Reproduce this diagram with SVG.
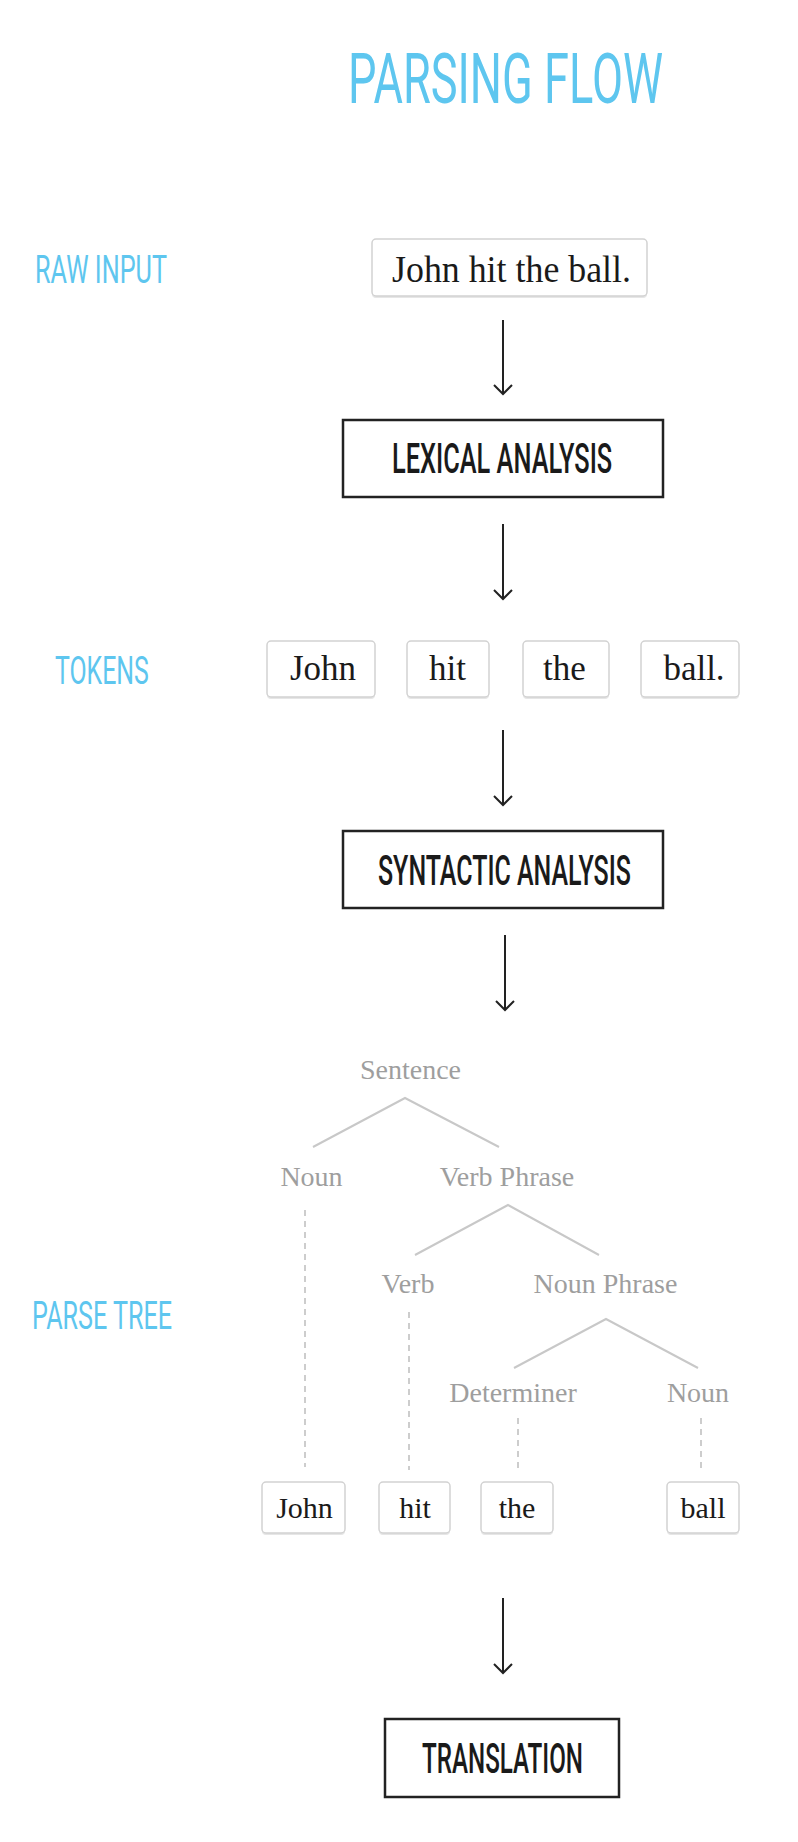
<svg xmlns="http://www.w3.org/2000/svg" width="798" height="1842" viewBox="0 0 798 1842">
<defs>
<style>
.blue{font-family:Roboto,"Liberation Sans",sans-serif;font-weight:400;fill:#5ec6ef}
.proc{font-family:Roboto,"Liberation Sans",sans-serif;font-weight:500;fill:#1a1a1a;font-size:42px}
.pbox{fill:#fff;stroke:#222;stroke-width:2.5}
.wbox{fill:#fff;stroke:#d2d2d2;stroke-width:1.5}
.shadow{fill:#e6e6e6}
.word{font-family:"Liberation Serif",serif;fill:#1a1a1a;text-anchor:middle}
.tl{font-family:"Liberation Serif",serif;fill:#9e9e9e;font-size:28px;text-anchor:middle}
.arrow{stroke:#222;stroke-width:2;fill:none}
.branch{stroke:#c8c8c8;stroke-width:2;fill:none}
.dash{stroke:#bdbdbd;stroke-width:1.5;stroke-dasharray:6 5;fill:none}
</style>
<marker id="ah" viewBox="-11 -11 13 22" markerWidth="13" markerHeight="22" refX="0" refY="0" orient="auto" markerUnits="userSpaceOnUse">
<path d="M-9 -9 L0 0 L-9 9" fill="none" stroke="#222" stroke-width="2"/>
</marker>
</defs>
<rect width="798" height="1842" fill="#fff"/>

<g id="title"><text class="blue" transform="translate(348,103) scale(0.634,1)" x="0" y="0" font-size="70" textLength="497" lengthAdjust="spacingAndGlyphs">PARSING FLOW</text></g>

<g id="labels">
<text class="blue" transform="translate(35,283) scale(0.639,1)" x="0" y="0" font-size="39" textLength="206.5" lengthAdjust="spacingAndGlyphs">RAW INPUT</text>
<text class="blue" transform="translate(55,684) scale(0.63,1)" x="0" y="0" font-size="39" textLength="149" lengthAdjust="spacingAndGlyphs">TOKENS</text>
<text class="blue" transform="translate(32,1329) scale(0.628,1)" x="0" y="0" font-size="39" textLength="223" lengthAdjust="spacingAndGlyphs">PARSE TREE</text>
</g>

<g id="raw-input">
<rect class="shadow" x="372" y="241" width="275" height="57" rx="4"/>
<rect class="wbox" x="372" y="239" width="275" height="57" rx="4"/>
<text class="word" x="511.5" y="282" font-size="38" textLength="239" lengthAdjust="spacingAndGlyphs">John hit the ball.</text>
</g>

<g id="lexical-analysis">
<rect class="pbox" x="343" y="420" width="320" height="77"/>
<text class="proc" transform="translate(392,473) scale(0.6,1)" x="0" y="0" textLength="367" lengthAdjust="spacingAndGlyphs">LEXICAL ANALYSIS</text>
</g>

<g id="tokens">
<g id="tok-john"><rect class="shadow" x="267" y="643" width="108" height="56" rx="4"/><rect class="wbox" x="267" y="641" width="108" height="56" rx="4"/><text class="word" x="323" y="680" font-size="35">John</text></g>
<g id="tok-hit"><rect class="shadow" x="407" y="643" width="82" height="56" rx="4"/><rect class="wbox" x="407" y="641" width="82" height="56" rx="4"/><text class="word" x="447.5" y="680" font-size="35">hit</text></g>
<g id="tok-the"><rect class="shadow" x="523" y="643" width="86" height="56" rx="4"/><rect class="wbox" x="523" y="641" width="86" height="56" rx="4"/><text class="word" x="564.5" y="680" font-size="35">the</text></g>
<g id="tok-ball"><rect class="shadow" x="641" y="643" width="98" height="56" rx="4"/><rect class="wbox" x="641" y="641" width="98" height="56" rx="4"/><text class="word" x="694" y="680" font-size="35">ball.</text></g>
</g>

<g id="syntactic-analysis">
<rect class="pbox" x="343" y="831" width="320" height="77"/>
<text class="proc" transform="translate(378,885) scale(0.588,1)" x="0" y="0" textLength="430" lengthAdjust="spacingAndGlyphs">SYNTACTIC ANALYSIS</text>
</g>

<g id="parse-tree">
<g id="tree-lines">
<polyline class="branch" points="313,1147 405,1098 499,1147"/>
<polyline class="branch" points="415,1255 508,1205 599,1255"/>
<polyline class="branch" points="514,1368 606,1319 698,1368"/>
<line class="dash" x1="305" y1="1210" x2="305" y2="1467"/>
<line class="dash" x1="409" y1="1312" x2="409" y2="1470"/>
<line class="dash" x1="518" y1="1418" x2="518" y2="1470"/>
<line class="dash" x1="701" y1="1418" x2="701" y2="1470"/>
</g>
<g id="n-sentence"><text class="tl" x="410.5" y="1079">Sentence</text></g>
<g id="n-noun1"><text class="tl" x="311.5" y="1186">Noun</text></g>
<g id="n-vp"><text class="tl" x="507" y="1186">Verb Phrase</text></g>
<g id="n-verb"><text class="tl" x="408" y="1293">Verb</text></g>
<g id="n-np"><text class="tl" x="605.5" y="1293">Noun Phrase</text></g>
<g id="n-det"><text class="tl" x="513" y="1402">Determiner</text></g>
<g id="n-noun2"><text class="tl" x="698" y="1402">Noun</text></g>
<g id="leaf-john"><rect class="shadow" x="262" y="1484" width="83" height="51" rx="4"/><rect class="wbox" x="262" y="1482" width="83" height="51" rx="4"/><text class="word" x="304.5" y="1518" font-size="30">John</text></g>
<g id="leaf-hit"><rect class="shadow" x="379" y="1484" width="71" height="51" rx="4"/><rect class="wbox" x="379" y="1482" width="71" height="51" rx="4"/><text class="word" x="415" y="1518" font-size="30">hit</text></g>
<g id="leaf-the"><rect class="shadow" x="481" y="1484" width="72" height="51" rx="4"/><rect class="wbox" x="481" y="1482" width="72" height="51" rx="4"/><text class="word" x="517" y="1518" font-size="30">the</text></g>
<g id="leaf-ball"><rect class="shadow" x="667" y="1484" width="72" height="51" rx="4"/><rect class="wbox" x="667" y="1482" width="72" height="51" rx="4"/><text class="word" x="703" y="1518" font-size="30">ball</text></g>
</g>

<g id="translation">
<rect class="pbox" x="385" y="1719" width="234" height="78"/>
<text class="proc" transform="translate(422,1773) scale(0.573,1)" x="0" y="0" textLength="281" lengthAdjust="spacingAndGlyphs">TRANSLATION</text>
</g>

<g id="connectors">
<line class="arrow" x1="503" y1="320" x2="503" y2="394" marker-end="url(#ah)"/>
<line class="arrow" x1="503" y1="524" x2="503" y2="599" marker-end="url(#ah)"/>
<line class="arrow" x1="503" y1="730" x2="503" y2="805" marker-end="url(#ah)"/>
<line class="arrow" x1="505" y1="935" x2="505" y2="1010" marker-end="url(#ah)"/>
<line class="arrow" x1="503" y1="1598" x2="503" y2="1673" marker-end="url(#ah)"/>
</g>
</svg>
